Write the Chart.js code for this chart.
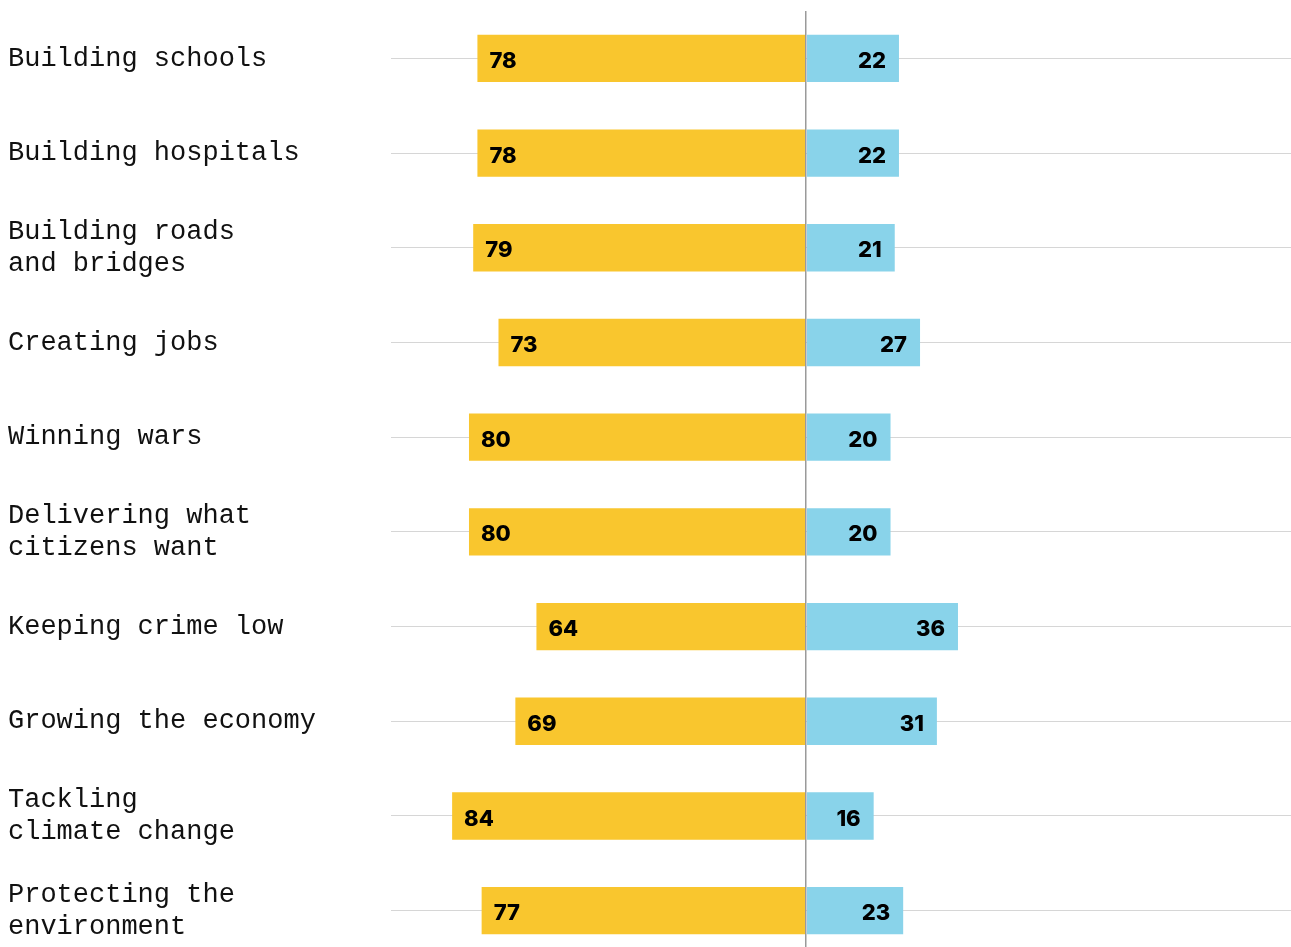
<!DOCTYPE html>
<html>
<head>
<meta charset="utf-8">
<script src="https://cdn.jsdelivr.net/npm/chart.js@4.4.1/dist/chart.umd.min.js"></script>
<style>
  html, body { margin: 0; padding: 0; background: #fff; overflow: hidden; }
  #wrap { position: relative; width: 1291px; height: 958px; }
</style>
</head>
<body>
<div id="wrap"><canvas id="trustChart"></canvas></div>
<script>
// ---- Data ----
const categories = [
  'Building schools',
  'Building hospitals',
  ['Building roads', 'and bridges'],
  'Creating jobs',
  'Winning wars',
  ['Delivering what', 'citizens want'],
  'Keeping crime low',
  'Growing the economy',
  ['Tackling', 'climate change'],
  ['Protecting the', 'environment']
];
const leftValues = [78, 78, 79, 73, 80, 80, 64, 69, 84, 77];
const rightValues = [22, 22, 21, 27, 20, 20, 36, 31, 16, 23];

const YELLOW = '#F9C62E';
const BLUE = '#89D3EA';

// value labels inside the bar ends
const barValues = {
  id: 'barValues',
  afterDatasetsDraw(chart) {
    const ctx = chart.ctx;
    ctx.save();
    ctx.font = '800 22px Inter, Roboto, sans-serif';
    ctx.fillStyle = '#000';
    ctx.textBaseline = 'middle';
    chart.data.datasets.forEach((ds, di) => {
      const meta = chart.getDatasetMeta(di);
      meta.data.forEach((el, i) => {
        const v = Math.abs(ds.data[i]);
        if (di === 0) {
          ctx.textAlign = 'left';
          ctx.fillText(v, el.x + 12, el.y + 3);
        } else {
          ctx.textAlign = 'right';
          ctx.fillText(v, el.x - 13, el.y + 3);
        }
      });
    });
    ctx.restore();
  }
};

new Chart(document.getElementById('trustChart'), {
  type: 'bar',
  data: {
    labels: categories,
    datasets: [
      { label: 'Left', data: leftValues.map(v => -v), backgroundColor: YELLOW,
        borderWidth: 0, barPercentage: 0.5, categoryPercentage: 1 },
      { label: 'Right', data: rightValues, backgroundColor: BLUE,
        borderWidth: 0, barPercentage: 0.5, categoryPercentage: 1 }
    ]
  },
  plugins: [barValues],
  options: {
    indexAxis: 'y',
    responsive: true, maintainAspectRatio: false, animation: false,
    layout: { padding: { left: 8, top: 11, right: 0, bottom: 0 } },
    plugins: { legend: { display: false }, tooltip: { enabled: false } },
    scales: {
      x: {
        stacked: true, min: -98.5, max: 115,
        ticks: { display: false, stepSize: 10 },
        afterFit: s => { s.height = 0; s.paddingLeft = 0; s.paddingRight = 0; },
        grid: {
          drawTicks: false, z: 1,
          color: c => c.tick && c.tick.value === 0 ? '#9a9a9a' : 'transparent',
          lineWidth: c => c.tick && c.tick.value === 0 ? 1.5 : 0
        },
        border: { display: false }
      },
      y: {
        stacked: true,
        afterFit: s => { s.width = 383; s.paddingTop = 0; s.paddingBottom = 0; },
        ticks: {
          crossAlign: 'far', color: '#111', padding: 0,
          font: { family: '"Liberation Mono", monospace', size: 27 }
        },
        grid: { offset: false, drawTicks: false, color: '#d6d6d6', lineWidth: 1 },
        border: { display: false }
      }
    }
  }
});
</script>
</body>
</html>
